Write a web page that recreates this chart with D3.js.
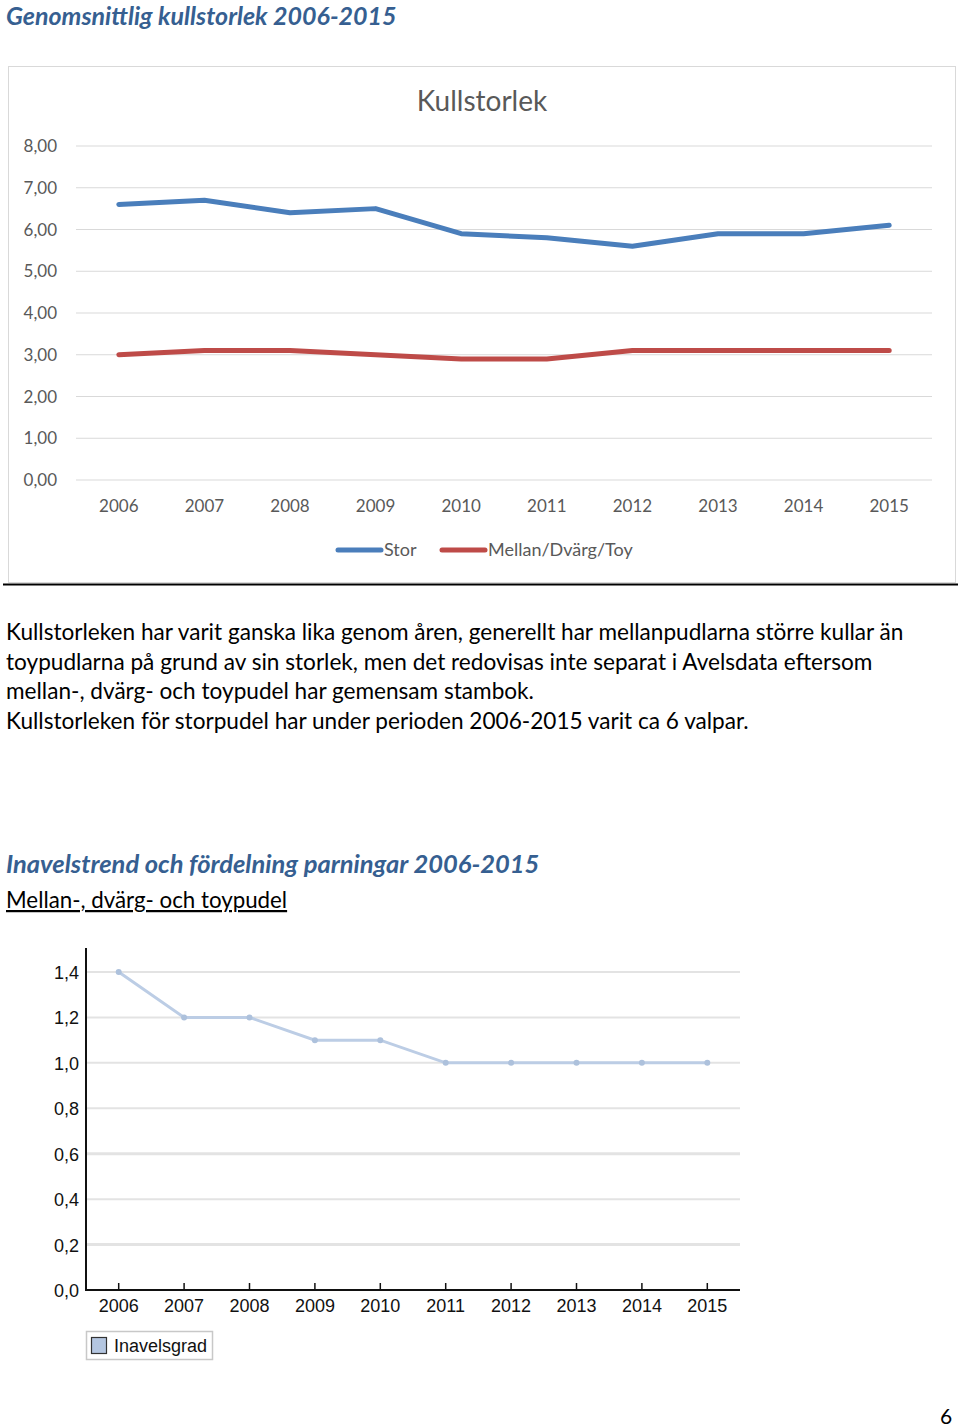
<!DOCTYPE html>
<html><head><meta charset="utf-8">
<script src="https://cdn.jsdelivr.net/npm/d3@7"></script>
<style>
body{margin:0;background:#fff;}
svg{display:block;}
</style></head>
<body>
<svg id="page" width="960" height="1427"></svg>
<script>
// ---- Data ----
const years = ["2006","2007","2008","2009","2010","2011","2012","2013","2014","2015"];
const storValues = [6.6, 6.7, 6.4, 6.5, 5.9, 5.8, 5.6, 5.9, 5.9, 6.1];
const mellanValues = [3.0, 3.1, 3.1, 3.0, 2.9, 2.9, 3.1, 3.1, 3.1, 3.1];
const kullTicks = [0,1,2,3,4,5,6,7,8];
const inavelValues = [1.4, 1.2, 1.2, 1.1, 1.1, 1.0, 1.0, 1.0, 1.0, 1.0];
const inavelTicks = [0,0.2,0.4,0.6,0.8,1.0,1.2,1.4];
const seriesNames = ["Stor","Mellan/Dvärg/Toy"];
const bodyLines = [
 "Kullstorleken har varit ganska lika genom åren, generellt har mellanpudlarna större kullar än",
 "toypudlarna på grund av sin storlek, men det redovisas inte separat i Avelsdata eftersom",
 "mellan-, dvärg- och toypudel har gemensam stambok.",
 "Kullstorleken för storpudel har under perioden 2006-2015 varit ca 6 valpar."
];

const svg = d3.select("#page");
const comma = d => d.toFixed(2).replace(".", ",");
const comma1 = d => d.toFixed(1).replace(".", ",");
const calibri = "Lato, Carlito, 'Open Sans', sans-serif";
const narrow = "'Liberation Sans Narrow', 'Arial Narrow', 'Liberation Sans', Arial, sans-serif";

// ---- Headings ----
svg.append("text").attr("x",6).attr("y",25)
  .attr("font-family",calibri).attr("font-weight","bold").attr("font-style","italic")
  .attr("font-size",25).attr("fill","#365f91").text("Genomsnittlig kullstorlek 2006-2015");

// ---- Chart 1 frame ----
svg.append("rect").attr("x",8.5).attr("y",66.5).attr("width",947).attr("height",516)
  .attr("fill","#fff").attr("stroke","#d9d9d9");
svg.append("line").attr("x1",3).attr("x2",958).attr("y1",584.5).attr("y2",584.5)
  .attr("stroke","#000").attr("stroke-width",2);

svg.append("text").attr("x",482).attr("y",111).attr("text-anchor","middle")
  .attr("font-family",calibri).attr("font-size",28).attr("fill","#595959").text("Kullstorlek");

const x1 = d3.scaleBand().domain(years).range([76,932]);
const y1 = d3.scaleLinear().domain([0,8]).range([480,146]);

const g1 = svg.append("g");
g1.selectAll("line.grid").data(kullTicks).join("line")
  .attr("x1",76).attr("x2",932).attr("y1",d=>y1(d)).attr("y2",d=>y1(d))
  .attr("stroke","#d9d9d9").attr("stroke-width",1);
g1.selectAll("text.ylab").data(kullTicks).join("text").attr("class","ylab")
  .attr("x",57).attr("y",d=>y1(d)+6).attr("text-anchor","end")
  .attr("font-family",calibri).attr("font-size",17).attr("fill","#595959").text(comma);
g1.selectAll("text.xlab").data(years).join("text").attr("class","xlab")
  .attr("x",d=>x1(d)+x1.bandwidth()/2).attr("y",512).attr("text-anchor","middle")
  .attr("font-family",calibri).attr("font-size",17).attr("fill","#595959").text(d=>d);

const line1 = d3.line().x((d,i)=>x1(years[i])+x1.bandwidth()/2).y(d=>y1(d));
g1.append("path").datum(mellanValues).attr("d",line1).attr("fill","none")
  .attr("stroke","#be4b48").attr("stroke-width",5).attr("stroke-linecap","round").attr("stroke-linejoin","round");
g1.append("path").datum(storValues).attr("d",line1).attr("fill","none")
  .attr("stroke","#4a7ebb").attr("stroke-width",5).attr("stroke-linecap","round").attr("stroke-linejoin","round");

// legend
const leg = [{name:seriesNames[0],c:"#4a7ebb",x:336},{name:seriesNames[1],c:"#be4b48",x:440}];
leg.forEach(l=>{
  svg.append("line").attr("x1",l.x+2).attr("x2",l.x+45).attr("y1",550).attr("y2",550)
    .attr("stroke",l.c).attr("stroke-width",5).attr("stroke-linecap","round");
  svg.append("text").attr("x",l.x+48).attr("y",556).attr("font-family",calibri)
    .attr("font-size",18).attr("fill","#595959").text(l.name);
});

// ---- Body text ----
svg.selectAll("text.body").data(bodyLines).join("text").attr("class","body")
  .attr("x",6).attr("y",(d,i)=>640+i*29.5)
  .attr("font-family",calibri).attr("font-size",22.6).attr("fill","#000").text(d=>d);

// ---- Second heading ----
svg.append("text").attr("x",6).attr("y",873)
  .attr("font-family",calibri).attr("font-weight","bold").attr("font-style","italic")
  .attr("font-size",25.5).attr("fill","#365f91").text("Inavelstrend och fördelning parningar 2006-2015");
svg.append("text").attr("x",6).attr("y",908)
  .attr("font-family",calibri).attr("font-size",22.3).attr("fill","#000")
  .attr("text-decoration","underline").text("Mellan-, dvärg- och toypudel");

// ---- Chart 2 ----
const x2 = d3.scaleBand().domain(years).range([86,740]);
const y2 = d3.scaleLinear().domain([0,1.4]).range([1290,972]);
const g2 = svg.append("g");
g2.selectAll("line.grid").data(inavelTicks.filter(d=>d>0)).join("line")
  .attr("x1",86).attr("x2",740).attr("y1",d=>y2(d)).attr("y2",d=>y2(d))
  .attr("stroke","#e3e3e3").attr("stroke-width",d=>(Math.abs(d-0.6)<1e-9||Math.abs(d-0.2)<1e-9)?3:2);
g2.selectAll("text.ylab").data(inavelTicks).join("text")
  .attr("x",79).attr("y",d=>y2(d)+7).attr("text-anchor","end")
  .attr("font-family",narrow).attr("font-size",18).attr("fill","#111").text(comma1);
// axes
g2.append("line").attr("x1",86).attr("x2",86).attr("y1",948).attr("y2",1291).attr("stroke","#111").attr("stroke-width",2);
g2.append("line").attr("x1",85).attr("x2",740).attr("y1",1290).attr("y2",1290).attr("stroke","#111").attr("stroke-width",2);
g2.selectAll("line.tick").data(years).join("line")
  .attr("x1",d=>x2(d)+x2.bandwidth()/2).attr("x2",d=>x2(d)+x2.bandwidth()/2)
  .attr("y1",1283).attr("y2",1290).attr("stroke","#111").attr("stroke-width",1.5);
g2.selectAll("text.xlab").data(years).join("text")
  .attr("x",d=>x2(d)+x2.bandwidth()/2).attr("y",1312).attr("text-anchor","middle")
  .attr("font-family",narrow).attr("font-size",18).attr("fill","#111").text(d=>d);

const line2 = d3.line().x((d,i)=>x2(years[i])+x2.bandwidth()/2).y(d=>y2(d));
g2.append("path").datum(inavelValues).attr("d",line2).attr("fill","none")
  .attr("stroke","#bccde5").attr("stroke-width",3);
g2.selectAll("circle").data(inavelValues).join("circle")
  .attr("cx",(d,i)=>x2(years[i])+x2.bandwidth()/2).attr("cy",d=>y2(d)).attr("r",3)
  .attr("fill","#adc1dc");

// legend 2
svg.append("rect").attr("x",86.5).attr("y",1331.5).attr("width",126).attr("height",28)
  .attr("fill","#fff").attr("stroke","#c8c8c8").attr("stroke-width",1.5);
svg.append("rect").attr("x",91.5).attr("y",1337.5).attr("width",15).attr("height",16)
  .attr("fill","#b4c6e0").attr("stroke","#333").attr("stroke-width",1.2);
svg.append("text").attr("x",114).attr("y",1352).attr("font-family",narrow)
  .attr("font-size",18).attr("fill","#111").text("Inavelsgrad");

// page number
svg.append("text").attr("x",946).attr("y",1424).attr("text-anchor","middle")
  .attr("font-family",calibri).attr("font-size",21).attr("fill","#000").text("6");
</script>
</body></html>
